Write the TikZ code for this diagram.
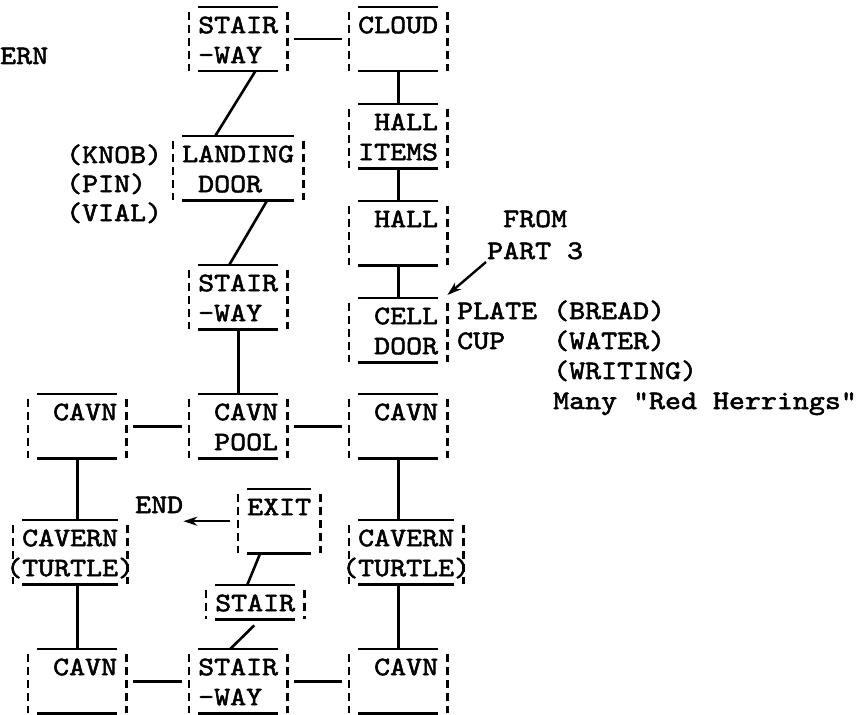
\documentclass[tikz,border=0pt]{standalone}
\usepackage{fontspec}
\usepackage{tikz}
\usetikzlibrary{arrows.meta,calc,positioning}
\newfontfamily\typewfont{lmmono10-regular.otf}[FakeStretch=1.14,FakeBold=2]
\newcommand\typew{\typewfont\fontsize{26.7}{30}\selectfont}
\newcommand\typegap{\hphantom{X}}

\tikzset{
  wall/.style={draw,line width=2.2pt},
  side/.style={draw,line width=2.2pt,dash pattern=on 8pt off 5pt},
  room/.style={inner sep=0pt,anchor=north west,text width=#1,align=left,
    font=\typew,text height=26pt,text depth=38pt,
    append after command={
      (\tikzlastnode.north west) edge[wall] (\tikzlastnode.north east)
      (\tikzlastnode.south west) edge[wall] (\tikzlastnode.south east)
      ([shift={(-9pt,-5pt)}]\tikzlastnode.north west) edge[side] ([xshift=-9pt]\tikzlastnode.south west)
      ([shift={(9pt,-5pt)}]\tikzlastnode.north east) edge[side] ([xshift=9pt]\tikzlastnode.south east)
    }},
  room/.default=80pt,
  note/.style={inner sep=0pt,anchor=base west,font=\typew},
  link/.style={line width=2.6pt},
  pointer/.style={line width=2.4pt,-{Stealth[length=14pt,width=9pt]}},
}

\begin{document}
\begin{tikzpicture}[x=1pt,y=-1pt]
    \useasboundingbox (0,0) rectangle (858,714);
    % rooms
    \node[room] (stairA) at (198,7) {STAIR\\-WAY};
    \node[room] (cloud) at (358,7) {CLOUD};
    \node[room] (hallItems) at (358,104) {\typegap HALL\\ITEMS};
    \node[room=112pt] (landing) at (182,136) {LANDING\\\typegap DOOR};
    \node[room] (hall) at (358,201) {\typegap HALL};
    \node[room] (stairB) at (198,265) {STAIR\\-WAY};
    \node[room] (cell) at (358,298) {\typegap CELL\\\typegap DOOR};
    \node[room] (cavnA) at (37,394) {\typegap CAVN};
    \node[room] (pool) at (198,394) {\typegap CAVN\\\typegap POOL};
    \node[room] (cavnB) at (358,394) {\typegap CAVN};
    \node[room=64pt] (exit) at (247,489) {EXIT};
    \node[room=96pt] (turtleA) at (22,520) {CAVERN\\\mbox{\llap{(}TURTLE\rlap{)}}};
    \node[room=96pt] (turtleB) at (358,520) {CAVERN\\\mbox{\llap{(}TURTLE\rlap{)}}};
    \node[room,text depth=8pt] (stairC) at (215,585) {STAIR};
    \node[room] (cavnC) at (37,649) {\typegap CAVN};
    \node[room] (stairD) at (198,649) {STAIR\\-WAY};
    \node[room] (cavnD) at (358,649) {\typegap CAVN};

    % loose texts
    \node[note] (ern) at (0,64) {ERN};
    \foreach \t/\y/\txt in {knob/163/KNOB,pin/192/PIN,vial/221/VIAL}
        \node[note] (\t) at (66,\y) {(\txt)};
    \node[note] (end) at (135,513) {END};
    \node[note] (from) at (503,227) {FROM};
    \node[note] (part) at (487,259) {PART 3};
    \node[note] (plate) at (457,319) {PLATE};
    \node[note] (cup) at (457,349) {CUP};
    \node[note] (bread) at (553,319) {(BREAD)};
    \node[note] (water) at (553,349) {(WATER)};
    \node[note] (writing) at (553,379) {(WRITING)};
    \node[note] (herrings) at (553,409) {Many "Red Herrings"};

    % passages
    \draw[link] ([xshift=16pt]stairA.east) -- ([xshift=-16pt]cloud.west);
    \draw[link] ([xshift=17pt]stairA.south) -- ([xshift=-23pt]landing.north);
    \draw[link] ([xshift=29pt]landing.south) -- ([xshift=-9pt]stairB.north);
    \draw[link] (stairB.south) -- (pool.north);
    \draw[link] (cloud.south) -- (hallItems.north);
    \draw[link] (hallItems.south) -- (hall.north);
    \draw[link] (hall.south) -- (cell.north);
    \draw[link] ([xshift=16pt]cavnA.east) -- ([xshift=-16pt]pool.west);
    \draw[link] ([xshift=16pt]pool.east) -- ([xshift=-16pt]cavnB.west);
    \draw[link] (cavnA.south) -- (cavnA.south |- turtleA.north);
    \draw[link] (turtleA.south -| cavnC.north) -- (cavnC.north);
    \draw[link] (cavnB.south) -- (cavnB.south |- turtleB.north);
    \draw[link] (turtleB.south -| cavnD.north) -- (cavnD.north);
    \draw[link] ([xshift=-19pt]exit.south) -- ([xshift=-8pt]stairC.north);
    \draw[link] ([shift={(-1pt,-6pt)}]stairC.south) -- ([xshift=-8pt]stairD.north);
    \draw[link] ([xshift=16pt]cavnC.east) -- ([xshift=-16pt]stairD.west);
    \draw[link] ([xshift=16pt]stairD.east) -- ([xshift=-16pt]cavnD.west);
    \draw[pointer] ([xshift=-17pt]exit.west) -- (exit.west -| end.east);
    \draw[pointer] ([shift={(-1pt,-3pt)}]part.base west) -- ([shift={(9pt,3pt)}]cell.north east);
\end{tikzpicture}
\end{document}
